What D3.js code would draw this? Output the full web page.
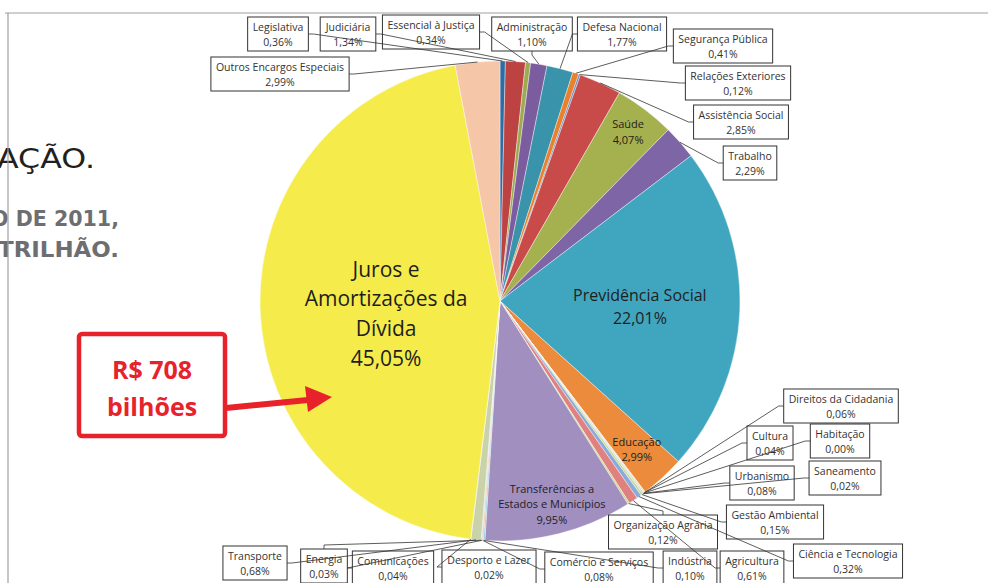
<!DOCTYPE html>
<html>
<head>
<meta charset="utf-8">
<script src="https://cdn.jsdelivr.net/npm/d3@7"></script>
<style>
  body { margin: 0; background: #fff; }
  svg { display: block; }
</style>
</head>
<body>
<svg id="chart" width="988" height="583"></svg>
<script>
// funções do orçamento 2011, na ordem do gráfico (sentido horário a partir do topo)
const funcoes = [
  "Legislativa", "Judiciária", "Essencial à Justiça", "Administração", "Defesa Nacional",
  "Segurança Pública", "Relações Exteriores", "Assistência Social", "Saúde", "Trabalho",
  "Previdência Social", "Educação", "Cultura", "Direitos da Cidadania", "Habitação",
  "Urbanismo", "Saneamento", "Gestão Ambiental", "Ciência e Tecnologia", "Agricultura",
  "Organização Agrária", "Transferências a Estados e Municípios", "Indústria",
  "Comércio e Serviços", "Comunicações", "Energia", "Transporte", "Desporto e Lazer",
  "Juros e Amortizações da Dívida", "Outros Encargos Especiais"
];
const percentuais = [
  0.36, 1.34, 0.34, 1.10, 1.77,
  0.41, 0.12, 2.85, 4.07, 2.29,
  22.01, 2.99, 0.04, 0.06, 0.00,
  0.08, 0.02, 0.15, 0.32, 0.61,
  0.12, 9.95, 0.10,
  0.08, 0.04, 0.03, 0.68, 0.02,
  45.05, 2.99
];
const cores = [
  "#2e6ca4", "#bd4242", "#9dab4e", "#7b5c9e", "#3993aa",
  "#e8802c", "#5b8ac6", "#c84b4a", "#a5b04f", "#7e66a6",
  "#40a6bf", "#eb8b3b", "#f0d27a", "#d5cf95", "#b0b0b0",
  "#b2c9e8", "#e7a1a0", "#cbd98f", "#89abdc", "#e0807f",
  "#c9d88c", "#a18fc0", "#8bcbe0",
  "#f5b07f", "#90b1e0", "#e09090", "#c9d2a8", "#a999c9",
  "#f5ec4c", "#f6c6a8"
];

// caixas externas: centro x, centro y, lado de onde sai a linha
const caixas = {
  "Legislativa": [278, 34, "r"],
  "Judiciária": [348, 34, "r"],
  "Essencial à Justiça": [431, 32, "r"],
  "Administração": [532, 34, "b"],
  "Defesa Nacional": [622, 34, "l"],
  "Segurança Pública": [723, 46, "l"],
  "Relações Exteriores": [738, 83, "l"],
  "Assistência Social": [741, 122, "l"],
  "Trabalho": [750, 163, "l"],
  "Direitos da Cidadania": [841, 406, "l"],
  "Cultura": [770, 443, "l"],
  "Habitação": [840, 441, "l"],
  "Urbanismo": [762, 483, "l"],
  "Saneamento": [845, 478, "l"],
  "Gestão Ambiental": [775, 522, "l"],
  "Ciência e Tecnologia": [848, 561, "l"],
  "Agricultura": [752, 568, "l"],
  "Organização Agrária": [663, 532, "t"],
  "Indústria": [690, 568, "l"],
  "Comércio e Serviços": [599, 569, "l"],
  "Desporto e Lazer": [489, 567, "l"],
  "Comunicações": [393, 568, "l"],
  "Energia": [324, 566, "t"],
  "Transporte": [255, 563, "r"],
  "Outros Encargos Especiais": [280, 74, "r"]
};

// rótulos internos: raio, tamanho da fonte, deslocamento x/y, linhas
const internos = {
  "Juros e Amortizações da Dívida": [122, 21, 8, 9, ["Juros e", "Amortizações da", "Dívida"]],
  "Previdência Social": [140, 16, 0, 0, ["Previdência Social"]],
  "Saúde": [212, 11, 0, 0, ["Saúde"]],
  "Educação": [202, 11, 0, 0, ["Educação"]],
  "Transferências a Estados e Municípios": [210, 11, 0, 0, ["Transferências a", "Estados e Municípios"]]
};

const fmt = v => d3.format(".2f")(v).replace(".", ",") + "%";

const svg = d3.select("#chart");
const cx = 500, cy = 301, R = 240;
const fonte = "'Open Sans', 'Noto Sans', sans-serif";

// texto da página por trás do gráfico
const pg = svg.append("g").attr("font-family", "'DejaVu Sans', sans-serif")
  .attr("text-anchor", "end");
pg.append("text").attr("x", 95).attr("y", 168)
  .attr("font-size", 26).attr("fill", "#231f20")
  .attr("textLength", 98).attr("lengthAdjust", "spacingAndGlyphs").text("AÇÃO.");
pg.append("text").attr("x", 119).attr("y", 226)
  .attr("font-size", 22).attr("font-weight", "bold").attr("fill", "#6d6e71")
  .attr("textLength", 128).attr("lengthAdjust", "spacingAndGlyphs").text("O DE 2011,");
pg.append("text").attr("x", 119).attr("y", 257)
  .attr("font-size", 22).attr("font-weight", "bold").attr("fill", "#6d6e71")
  .attr("textLength", 121).attr("lengthAdjust", "spacingAndGlyphs").text("TRILHÃO.");

svg.append("line").attr("x1", 5).attr("x2", 988).attr("y1", 13).attr("y2", 13)
  .attr("stroke", "#a0a0a0").attr("stroke-width", 1.2);
svg.append("line").attr("x1", 8).attr("x2", 8).attr("y1", 13).attr("y2", 583)
  .attr("stroke", "#a0a0a0").attr("stroke-width", 1.2);

const dados = funcoes.map((f, i) => ({nome: f, v: percentuais[i], cor: cores[i]}));
const pie = d3.pie().sort(null).value(d => d.v);
const arcs = pie(dados);
const arc = d3.arc().innerRadius(0).outerRadius(R);

const g = svg.append("g").attr("transform", `translate(${cx},${cy})`);
g.selectAll("path.fatia").data(arcs).enter().append("path")
  .attr("class", "fatia")
  .attr("d", arc)
  .attr("fill", d => d.data.cor)
  .attr("stroke", "#fff").attr("stroke-width", 0.4);

// rótulos internos
arcs.filter(a => internos[a.data.nome]).forEach(a => {
  const [r, fs, dx, dy, linhas] = internos[a.data.nome];
  const m = (a.startAngle + a.endAngle) / 2;
  const x = r * Math.sin(m) + dx, y = -r * Math.cos(m) + dy;
  const todas = linhas.concat([fmt(a.data.v)]);
  const lh = fs * 1.42;
  const t = g.append("text").attr("font-family", fonte).attr("font-size", fs)
    .attr("fill", "#1e1e1e").attr("text-anchor", "middle");
  todas.forEach((l, i) => {
    t.append("tspan").attr("x", x)
      .attr("y", y + (i - (todas.length - 1) / 2) * lh + fs * 0.35).text(l);
  });
});

// caixas externas + linhas de chamada
const gc = svg.append("g");
const gl = svg.append("g");
arcs.filter(a => caixas[a.data.nome]).forEach(a => {
  const [bx, by, lado] = caixas[a.data.nome];
  const t = gc.append("text").attr("font-family", fonte).attr("font-size", 10.5)
    .attr("fill", "#333").attr("text-anchor", "middle");
  t.append("tspan").attr("x", bx).attr("y", by - 3).text(a.data.nome);
  t.append("tspan").attr("x", bx).attr("y", by + 12).text(fmt(a.data.v));
  const bb = t.node().getBBox();
  const w = bb.width + 10, h = 34;
  gc.insert("rect", "text")
    .attr("x", bx - w / 2).attr("y", by - h / 2).attr("width", w).attr("height", h)
    .attr("fill", "#fff").attr("stroke", "#333").attr("stroke-width", 1);
  let ax = bx, ay = by, sx = bx, sy = by;
  if (lado === "l") { ax = bx - w / 2; sx = ax - 5; }
  if (lado === "r") { ax = bx + w / 2; sx = ax + 5; }
  if (lado === "t") { ay = by - h / 2; sy = ay - 4; }
  if (lado === "b") { ay = by + h / 2; sy = ay + 4; }
  const m = (a.startAngle + a.endAngle) / 2;
  const px = cx + R * Math.sin(m), py = cy - R * Math.cos(m);
  gl.append("polyline")
    .attr("points", `${ax},${ay} ${sx},${sy} ${px},${py}`)
    .attr("fill", "none").attr("stroke", "#333").attr("stroke-width", 0.8);
});

// destaque em vermelho
const red = "#e8222b";
const gr = svg.append("g");
gr.append("rect").attr("x", 79).attr("y", 334).attr("width", 146).attr("height", 102)
  .attr("rx", 3).attr("fill", "#fff").attr("stroke", red).attr("stroke-width", 4.5);
gr.append("text").attr("x", 152).attr("y", 379).attr("text-anchor", "middle")
  .attr("font-family", "'Open Sans', sans-serif").attr("font-weight", 700)
  .attr("font-size", 25).attr("fill", red).text("R$ 708");
gr.append("text").attr("x", 152).attr("y", 416).attr("text-anchor", "middle")
  .attr("font-family", "'Open Sans', sans-serif").attr("font-weight", 700)
  .attr("font-size", 25).attr("fill", red).text("bilhões");
gr.append("line").attr("x1", 226).attr("y1", 408).attr("x2", 308).attr("y2", 400)
  .attr("stroke", red).attr("stroke-width", 6);
gr.append("path").attr("d", "M332,397 L305,386 L308,412 Z").attr("fill", red);
</script>
</body>
</html>
